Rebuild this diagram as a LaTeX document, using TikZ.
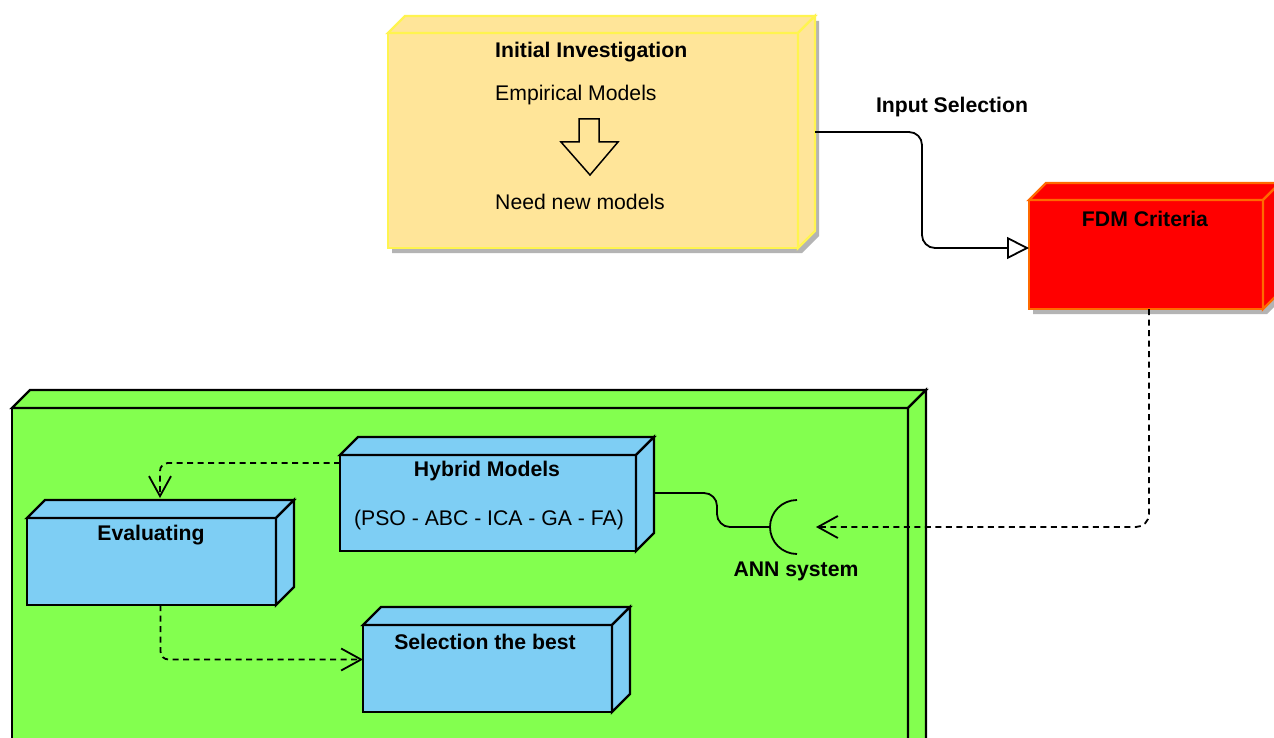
\documentclass[tikz,border=0pt]{standalone}
\usepackage{fontspec}
\setmainfont{Liberation Sans}
\usetikzlibrary{arrows.meta,calc}
\definecolor{yelfill}{HTML}{FFE599}
\definecolor{yelline}{HTML}{FFF44F}
\definecolor{redline}{HTML}{FF6A00}
\definecolor{grnfill}{HTML}{83FF4F}
\definecolor{blufill}{HTML}{7ECEF4}
\definecolor{shadcol}{HTML}{B4B4B4}
\tikzset{
  yel/.style={draw=yelline, fill=yelfill, line width=2.4pt},
  redb/.style={draw=redline, fill=red, line width=2.4pt},
  grn/.style={draw=black, fill=grnfill, line width=2.4pt},
  blu/.style={draw=black, fill=blufill, line width=2.4pt},
  shad/.style={fill=shadcol},
  conn/.style={line width=1.8pt, rounded corners=13pt},
  dconn/.style={conn, dash pattern=on 6pt off 4.5pt},
  barb/.style={-{Straight Barb[length=20pt,width=22pt,line width=1.8pt]}},
  ttl/.style={font=\bfseries\fontsize{21.2}{25}\selectfont, inner sep=0pt},
  txt/.style={font=\fontsize{21.2}{25}\selectfont, inner sep=0pt},
}
% #1 name, #2 x1, #3 y1, #4 x2, #5 y2, #6 depth, #7 style, #8 shadow style
\newcommand{\cubebox}[8]{%
  \path[#8] (#2+4,#3+5) -- (#2+#6+4,#3-#6+5) -- (#4+#6+4,#3-#6+5)
     -- (#4+#6+4,#5-#6+5) -- (#4+4,#5+5) -- (#2+4,#5+5) -- cycle;
  \node[#7, inner sep=0pt, outer sep=0pt, anchor=north west,
        minimum width={(#4-#2)*1pt}, minimum height={(#5-#3)*1pt}] (#1) at (#2,#3) {};
  \path[#7] (#1.north west) -- ++(#6,-#6) -- ++({#4-#2},0) -- (#1.north east) -- cycle;
  \path[#7] (#1.north east) -- ++(#6,-#6) -- ++(0,{#5-#3}) -- (#1.south east) -- cycle;
}
\begin{document}
\begin{tikzpicture}[x=1pt,y=-1pt]
\useasboundingbox (0,0) rectangle (1274,738);
\fill[white] (0,0) rectangle (1274,738);
\clip (0,0) rectangle (1274,738);

% boxes
\cubebox{yel}{388}{33}{798}{248}{17}{yel}{shad}
\cubebox{red}{1029}{200}{1263}{309}{17}{redb}{shad}
\cubebox{grn}{12}{408}{908}{770}{18}{grn}{}
\cubebox{hyb}{340}{455}{636}{551}{18}{blu}{}
\cubebox{eval}{27}{518}{276}{605}{18}{blu}{}
\cubebox{sel}{363}{625}{612}{712}{18}{blu}{}

% yellow box content
\node[ttl, anchor=west] (t1) at (495,52) {Initial Investigation};
\node[txt, anchor=west] (t2) at (495,95) {Empirical Models};
\node[txt, anchor=west] (t3) at (495,202) {Need new models};
\draw[line width=1.5pt, fill=yelfill, line join=miter] (579,119) -- (599,119) -- (599,142) -- (618,142)
   -- (590,175) -- (561,142) -- (579,142) -- cycle;

% other texts
\node[ttl] (tis) at (952,107) {Input Selection};
\node[ttl] (tfdm) at (1145,219) {FDM Criteria};
\node[ttl] (thyb) at (487,471) {Hybrid Models};
\node[txt] (tpso) at (489,520) {(PSO - ABC - ICA - GA - FA)};
\node[ttl] (tev) at (151,535) {Evaluating};
\node[ttl] (tsel) at (485,642) {Selection the best};

% ANN socket
\coordinate (ann) at (797,527);
\draw[line width=1.8pt] ($(ann)+(0,-27)$) arc[start angle=90, end angle=270, radius=27pt];
\node[ttl] (tann) at (796,571) {ANN system};

% connectors
\coordinate (ys) at ($(yel.east)+(17,-8.5)$);
\coordinate (rin) at ($(red.west)+(0,-6.5)$);
\draw[conn, -{Triangle[open, length=22pt, width=22pt, line width=1.8pt]}]
  (ys) -- (922,132) -- (922,248) -- (rin);

\draw[dconn, barb] ($(red.south)+(3,0)$) -- (1149,527) -- ($(ann)+(19,0)$);

\coordinate (hs) at ($(hyb.east)+(18,-10)$);
\draw[conn] (hs) -- (717,493) -- (717,527) -- ($(ann)+(-27,0)$);

\coordinate (hw) at ($(hyb.west)+(0,-40)$);
\coordinate (evtop) at (160,498);
\draw[dconn, barb, rounded corners=8pt] (hw) -| (evtop);

\coordinate (evb) at ($(eval.south)+(9,0)$);
\coordinate (selin) at ($(sel.west)+(0,-9)$);
\draw[dconn, barb, rounded corners=8pt] (evb) |- (selin);
\end{tikzpicture}
\end{document}
